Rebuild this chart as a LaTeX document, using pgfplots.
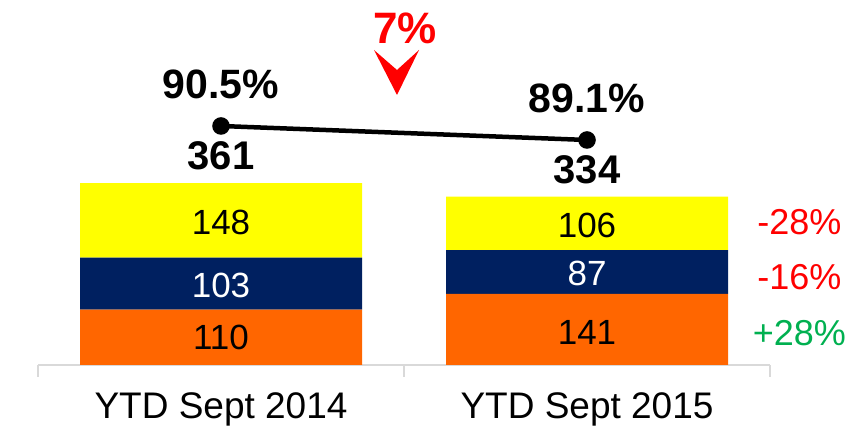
\documentclass[border=0pt]{standalone}
\usepackage{fontspec}
\setmainfont{Liberation Sans}
\usepackage{pgfplots}
\pgfplotsset{compat=1.18}
\definecolor{barorange}{RGB}{255,102,0}
\definecolor{barnavy}{RGB}{0,32,96}
\definecolor{baryellow}{RGB}{255,255,0}
\definecolor{uppred}{RGB}{255,0,0}
\definecolor{upgreen}{RGB}{0,176,80}
\definecolor{axisgray}{RGB}{217,217,217}
\begin{document}
\begin{tikzpicture}[x=1pt,y=1pt]
\useasboundingbox (0,0) rectangle (858,427);
\pgfplotsset{base/.style={at={(38pt,62pt)}, anchor=south west, scale only axis,
    width=732pt, height=365pt, xmin=-0.5, xmax=1.5, clip=false}}
% stacked bars
\begin{axis}[base, ymin=0, ymax=724.2,
    ybar stacked, bar width=282pt,
    axis y line=none, axis x line*=bottom,
    x axis line style={draw=axisgray, line width=1.5pt},
    xtick={0,1}, xticklabels={YTD Sept 2014, YTD Sept 2015},
    major tick length=0pt,
    xticklabel style={font=\fontsize{37}{40}\selectfont, anchor=base, yshift=-54pt},
    extra x ticks={-0.5,0.5,1.5}, extra x tick labels={},
    extra x tick style={major tick length=12pt, tick align=outside,
        tick style={draw=axisgray, line width=1.5pt}},
]
\addplot[fill=barorange, draw=none] coordinates {(0,110) (1,141)};
\addplot[fill=barnavy, draw=none] coordinates {(0,103) (1,87)};
\addplot[fill=baryellow, draw=none] coordinates {(0,148) (1,106)};
\end{axis}
% line with percentages
\begin{axis}[base, ymin=66.6, ymax=103.1, hide axis]
\addplot[black, line width=4.5pt, mark=*, mark size=6.5pt] coordinates {(0,90.5) (1,89.1)};
\addplot[draw=none, mark=none, nodes near coords, point meta=explicit symbolic,
    nodes near coords style={font=\bfseries\fontsize{41}{44}\selectfont, anchor=center, yshift=42pt}]
    coordinates {(0,90.5) [90.5\%] (1,89.1) [89.1\%]};
\addplot[draw=none, mark=none, nodes near coords, point meta=explicit symbolic,
    nodes near coords style={font=\bfseries\fontsize{40}{44}\selectfont, anchor=center, yshift=-30pt}]
    coordinates {(0,90.5) [361] (1,89.1) [334]};
\end{axis}
% data labels
\begin{axis}[base, ymin=0, ymax=724.2, hide axis]
\addplot[draw=none, mark=none, nodes near coords, point meta=explicit symbolic,
    nodes near coords style={anchor=center, text=black, font=\fontsize{35}{38}\selectfont}]
    coordinates {(0,54.6) [110] (0,282.7) [148] (1,64.5) [141] (1,277.8) [106]};
\addplot[draw=none, mark=none, nodes near coords, point meta=explicit symbolic,
    nodes near coords style={anchor=center, text=white, font=\fontsize{35}{38}\selectfont}]
    coordinates {(0,158.7) [103] (1,182.5) [87]};
\addplot[draw=none, mark=none, nodes near coords, point meta=explicit symbolic,
    nodes near coords style={anchor=center, text=uppred, font=\fontsize{36}{38}\selectfont}]
    coordinates {(1.58,283.7) [-28\%] (1.58,174.6) [-16\%]};
\addplot[draw=none, mark=none, nodes near coords, point meta=explicit symbolic,
    nodes near coords style={anchor=center, text=upgreen, font=\fontsize{36}{38}\selectfont}]
    coordinates {(1.58,63.5) [+28\%]};
\end{axis}
% change marker
\fill[uppred] (374,377) -- (397,357) -- (419,377) -- (397,332) -- cycle;
\node[text=uppred, font=\bfseries\fontsize{44}{48}\selectfont] at (405,399) {7\%};
\end{tikzpicture}
\end{document}
